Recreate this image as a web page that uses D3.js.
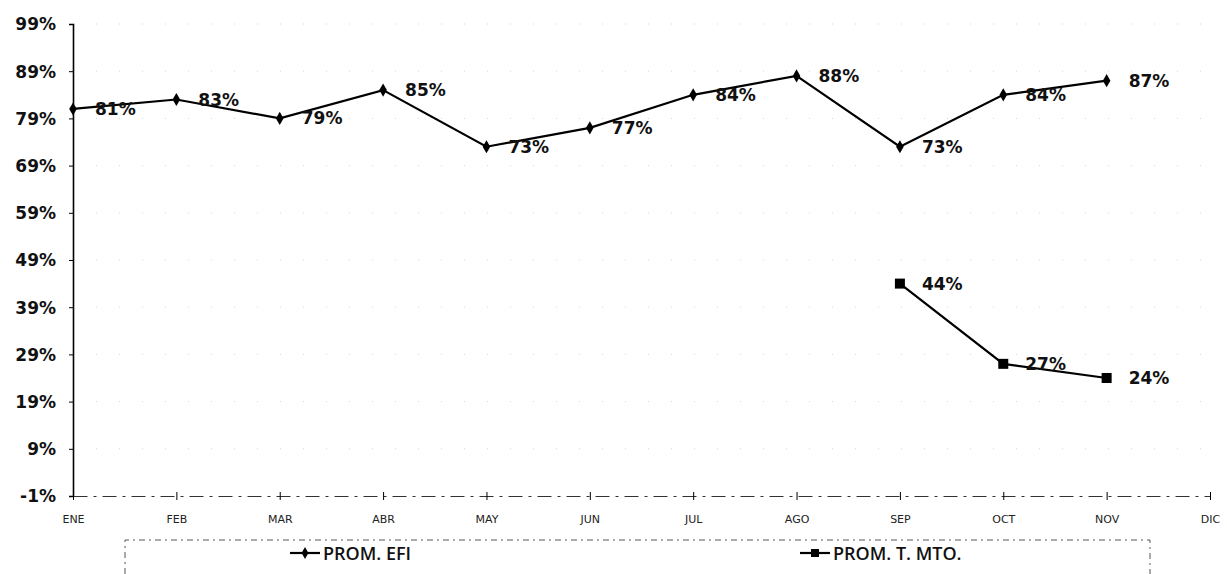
<!DOCTYPE html>
<html><head><meta charset="utf-8">
<script src="https://cdn.jsdelivr.net/npm/d3@7"></script>
<style>body{margin:0;background:#fff}</style>
</head><body><svg id="c" width="1227" height="574"></svg>
<script>
const months = ["ENE","FEB","MAR","ABR","MAY","JUN","JUL","AGO","SEP","OCT","NOV","DIC"];
const efiValues = [81,83,79,85,73,77,84,88,73,84,87,null];
const mtoValues = [null,null,null,null,null,null,null,null,44,27,24,null];
const yTicks = [-1,9,19,29,39,49,59,69,79,89,99];
const seriesNames = ["PROM. EFI","PROM. T. MTO."];

const svg = d3.select("#c");
const x = d3.scalePoint().domain(months).range([73,1210]);
const y = d3.scaleLinear().domain([-1,99]).range([496,24]);

// faint gridlines (scan-like)
svg.append("g").selectAll("line").data(yTicks.slice(1)).join("line")
  .attr("x1",73).attr("x2",1210).attr("y1",d=>y(d)).attr("y2",d=>y(d))
  .attr("stroke","#ccc").attr("stroke-width",0.8).attr("stroke-dasharray","1,22");

// y axis
const ya = svg.append("g").attr("transform","translate(73,0)")
  .call(d3.axisLeft(y).tickValues(yTicks).tickSize(4).tickFormat(d=>d+"%"));
ya.select(".domain").attr("stroke","#000").attr("stroke-width",1.6);
ya.selectAll(".tick line").attr("stroke","#000");
ya.selectAll(".tick text").attr("font-family","DejaVu Sans").attr("font-weight","bold")
  .attr("font-size",17).attr("fill","#111").attr("x",-17).attr("dy","0.35em");

// x axis
const xa = svg.append("g").attr("transform","translate(0,496)")
  .call(d3.axisBottom(x).tickSize(0).tickPadding(19));
xa.select(".domain").attr("stroke","#333").attr("stroke-width",1.2).attr("stroke-dasharray","14,6,3,6");
xa.selectAll(".tick line").attr("y1",-4).attr("y2",4).attr("stroke","#000");
xa.selectAll(".tick text").attr("font-family","DejaVu Sans").attr("font-size",11)
  .attr("fill","#222");

// lines
const efiData = months.map((m,i)=>({m,v:efiValues[i]})).filter(d=>d.v!=null);
const mtoData = months.map((m,i)=>({m,v:mtoValues[i]})).filter(d=>d.v!=null);
const line = d3.line().x(d=>x(d.m)).y(d=>y(d.v));
svg.append("path").datum(efiData).attr("d",line).attr("fill","none").attr("stroke","#000").attr("stroke-width",2.2);
svg.append("path").datum(mtoData).attr("d",line).attr("fill","none").attr("stroke","#000").attr("stroke-width",2.2);

// markers
svg.append("g").selectAll("path").data(efiData).join("path")
  .attr("d",d3.symbol(d3.symbolDiamond,50))
  .attr("transform",d=>`translate(${x(d.m)},${y(d.v)})`).attr("fill","#000");
svg.append("g").selectAll("rect").data(mtoData).join("rect")
  .attr("x",d=>x(d.m)-5).attr("y",d=>y(d.v)-5).attr("width",10).attr("height",10).attr("fill","#000");

// labels
const lab = (data)=>svg.append("g").selectAll("text").data(data).join("text")
  .attr("x",d=>x(d.m)+22).attr("y",d=>y(d.v)+6)
  .attr("font-family","DejaVu Sans").attr("font-weight","bold").attr("font-size",17).attr("fill","#111")
  .text(d=>d.v+"%");
lab(efiData); lab(mtoData);

// legend
const lg = svg.append("g");
lg.append("path").attr("d","M125,574 V540 H1150 V574").attr("fill","none")
  .attr("stroke","#555").attr("stroke-width",1).attr("stroke-dasharray","6,4,2,4");
const items = [{x:290, sym:"diamond"},{x:800, sym:"square"}];
items.forEach((it,i)=>{
  lg.append("line").attr("x1",it.x).attr("x2",it.x+30).attr("y1",553).attr("y2",553).attr("stroke","#000").attr("stroke-width",2.2);
  if(it.sym==="diamond") lg.append("path").attr("d",d3.symbol(d3.symbolDiamond,40)).attr("transform",`translate(${it.x+15},553)`);
  else lg.append("rect").attr("x",it.x+11).attr("y",549).attr("width",8).attr("height",8);
  lg.append("text").attr("x",it.x+33).attr("y",560).attr("font-family","Open Sans").attr("font-weight",600)
    .attr("font-size",18).attr("fill","#111").text(seriesNames[i]);
});
</script></body></html>
